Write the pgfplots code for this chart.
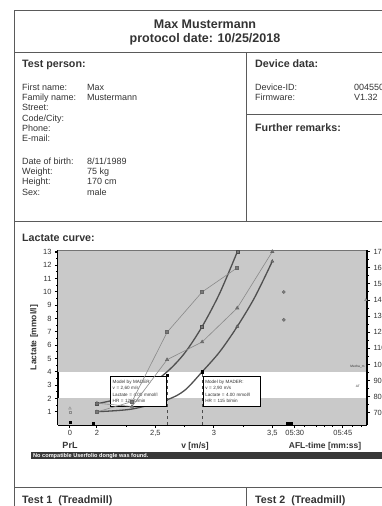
\documentclass[border=0pt]{standalone}
\usepackage{fontspec}
\setmainfont{Liberation Sans}
\usepackage{pgfplots}
\pgfplotsset{compat=1.18}
\definecolor{txt}{HTML}{333333}
\definecolor{frm}{HTML}{5A5A5A}
\definecolor{band}{HTML}{C9C9C9}
\definecolor{thick}{HTML}{505050}
\definecolor{thin}{HTML}{8A8A8A}
\definecolor{mk}{HTML}{7A7A7A}
\newcommand{\fs}[2]{\fontsize{#1}{#2}\selectfont}
\tikzset{fld/.style={anchor=base west, inner sep=0, text=txt, font=\fs{9}{10}},
         hd/.style={anchor=base west, inner sep=0, text=txt, font=\bfseries\fs{10.7}{12}}}
\begin{document}
\begin{tikzpicture}
\useasboundingbox (0,0) rectangle (381pt,-506pt);
\begin{scope}[x=1pt,y=-1pt]
% frames
\draw[frm, line width=1pt] (14,10) -- (420,10);
\draw[frm, line width=1pt] (14,10) -- (14,520);
\draw[frm, line width=1pt] (14,52) -- (420,52);
\draw[frm, line width=1pt] (246,52) -- (246,221);
\draw[frm, line width=1pt] (246,114) -- (420,114);
\draw[frm, line width=1pt] (14,221) -- (420,221);
\draw[frm, line width=1pt] (14,487) -- (420,487);
\draw[frm, line width=1pt] (246,487) -- (246,520);
% title
\node[anchor=base, text=txt, font=\bfseries\fs{12.5}{14}] at (205,28.3) {Max Mustermann};
\node[anchor=base, text=txt, font=\bfseries\fs{12.5}{14}] at (205,42.6) {protocol date: 10/25/2018};
% test person
\node[hd] at (22,67.2) {Test person:};
\node[fld] at (22,90.2) {First name:};   \node[fld] at (87,90.2) {Max};
\node[fld] at (22,100.5) {Family name:}; \node[fld] at (87,100.5) {Mustermann};
\node[fld] at (22,110.8) {Street:};
\node[fld] at (22,121.2) {Code/City:};
\node[fld] at (22,131.5) {Phone:};
\node[fld] at (22,141.8) {E-mail:};
\node[fld] at (22,164.2) {Date of birth:}; \node[fld] at (87,164.2) {8/11/1989};
\node[fld] at (22,174.5) {Weight:};  \node[fld] at (87,174.5) {75 kg};
\node[fld] at (22,184.8) {Height:};  \node[fld] at (87,184.8) {170 cm};
\node[fld] at (22,195.2) {Sex:};     \node[fld] at (87,195.2) {male};
% device
\node[hd] at (255,67.5) {Device data:};
\node[fld] at (255,90.2) {Device-ID:};
\node[fld] at (354,90.2) {00455000};
\node[fld] at (255,100.5) {Firmware:};
\node[fld] at (354,100.5) {V1.32};
\node[hd] at (255,131.5) {Further remarks:};
% lactate curve
\node[hd] at (22,241) {Lactate curve:};
% x-axis titles
\node[anchor=base, inner sep=0, text=txt, font=\bfseries\fs{9}{10}] at (70,448) {PrL};
\node[anchor=base, inner sep=0, text=txt, font=\bfseries\fs{8.5}{10}] at (195,448) {v [m/s]};
\node[anchor=base, inner sep=0, text=txt, font=\bfseries\fs{8.5}{10}] at (325,448) {AFL-time [mm:ss]};
% dongle bar
\fill[black!78] (31,452) rectangle (420,459);
\node[anchor=base west, inner sep=0, text=white, font=\bfseries\fs{5.6}{6}] at (33,457.6) {No compatible Userfolio dongle was found.};
% tests
\node[hd] at (22,503.5) {Test 1\ \ (Treadmill)};
\node[hd] at (255,503.5) {Test 2\ \ (Treadmill)};
\end{scope}

% ---------- lactate axis ----------
\begin{axis}[
  at={(58pt,-425pt)}, anchor=south west,
  scale only axis, width=309pt, height=175pt,
  xmin=1.667, xmax=4.31, ymin=0, ymax=13.15,
  axis x line*=bottom, axis y line*=left,
  axis line style={black, line width=1.1pt, -},
  xtick={1.769,2,2.5,3,3.5,3.692,4.103},
  xticklabels={0,2,{2,5},3,{3,5},05:30,05:45},
  extra x ticks={2.25,2.75,3.25,3.778,3.880,3.949,4.017,4.188,4.265},
  extra x tick labels={},
  extra x tick style={major tick length=2pt},
  ytick={1,2,...,13}, minor y tick num=1,
  tick align=outside,
  major tick length=3pt, minor tick length=2pt,
  every tick/.style={black, line width=1pt},
  tick label style={font=\fs{7.5}{8}, text=txt},
  xticklabel style={yshift=1pt},
  /pgf/number format/assume math mode=true,
  ylabel={Lactate [mmol/l]},
  ylabel style={font=\bfseries\fs{8.5}{9}, text=txt, yshift=-2pt},
]
\fill[band] (rel axis cs:0,0) rectangle (axis cs:4.31,2);
\fill[band] (axis cs:1.667,4) rectangle (rel axis cs:1,1);
\draw[black!55, line width=0.8pt] (rel axis cs:0,1) -- (rel axis cs:1,1);
% thresholds
\addplot[dashed, black!70, line width=0.8pt] coordinates {(2.6,0) (2.6,4)};
\addplot[dashed, black!70, line width=0.8pt] coordinates {(2.9,0) (2.9,4)};
% fitted lactate curves (test 1 / test 2)
\addplot[smooth, line width=1.3pt, color=thick] coordinates {(2.0,1.6) (2.2,2.0) (2.4,2.7) (2.6,4.0) (2.75,5.4) (2.9,7.4) (3.05,9.9) (3.2,13.0)};
\addplot[smooth, line width=1.3pt, color=thick] coordinates {(2.0,1.0) (2.3,1.2) (2.6,1.9) (2.75,2.6) (2.9,4.0) (3.05,5.5) (3.2,7.4) (3.35,9.6) (3.5,12.3)};
% measured lactate
\addplot[only marks, mark=square*, mark size=1.5pt, mark options={fill=mk, draw=black!70}] coordinates {(2.0,1.6) (2.9,7.4) (3.2,13.0)};
\addplot[only marks, mark=triangle*, mark size=1.8pt, mark options={fill=mk, draw=black!70}] coordinates {(2.0,1.0) (3.2,7.4) (3.5,12.3)};
% isolated AFL points
\addplot[only marks, mark=*, mark size=1.6pt, mark options={fill=black!50, draw=black!60}] coordinates {(3.598,10.0) (3.598,7.9)};
% PrL points
\addplot[only marks, mark=triangle, mark size=1.6pt, mark options={draw=black!45}] coordinates {(1.769,1.25)};
\addplot[only marks, mark=square, mark size=1.2pt, mark options={draw=black!45}] coordinates {(1.769,0.95)};
\addplot[only marks, mark=square*, mark size=1.2pt, black] coordinates {(1.769,0.2) (1.97,0.15) (3.66,0.15) (3.63,0.1)};
% threshold markers
\addplot[only marks, mark=square*, mark size=1.3pt, black] coordinates {(2.6,3.75) (2.9,4.0)};
% Mader boxes
\node[anchor=north east, draw=black, line width=0.8pt, fill=white, inner sep=1.5pt, minimum width=56pt, minimum height=30pt, align=left, font=\fs{4.6}{6.3}, text=txt, text width=52pt] at (axis cs:2.6,3.68) {Model by MADER:\\v = 2,60 m/s\\Lactate = 4.00 mmol/l\\HR = 120 b/min};
\node[anchor=north west, draw=black, line width=0.8pt, fill=white, inner sep=1.5pt, minimum width=57pt, minimum height=30pt, align=left, font=\fs{4.6}{6.3}, text=txt, text width=53pt] at (axis cs:2.906,3.68) {Model by MADER:\\v = 2,90 m/s\\Lactate = 4.00 mmol/l\\HR = 115 b/min};
\node[anchor=east, inner sep=0, font=\fs{3.2}{4}, text=txt] at (axis cs:4.29,4.35) {Mecha\_m};
\node[anchor=east, inner sep=0, font=\fs{3.2}{4}, text=txt] at (axis cs:4.25,2.9) {AT};
\end{axis}

% ---------- heart rate axis ----------
\begin{axis}[
  at={(58pt,-425pt)}, anchor=south west,
  scale only axis, width=309pt, height=175pt,
  xmin=1.667, xmax=4.31, ymin=62.5, ymax=171,
  axis x line=none, axis y line*=right,
  axis line style={black, line width=1.1pt, -},
  ytick={70,80,...,170}, minor y tick num=1,
  tick align=outside,
  major tick length=3pt, minor tick length=2pt,
  every tick/.style={black, line width=1pt},
  tick label style={font=\fs{7.5}{8}, text=txt},
  /pgf/number format/assume math mode=true,
]
\addplot[line width=0.6pt, color=thin, mark=square*, mark size=1.5pt, mark options={fill=mk, draw=black!60}] coordinates {(2.0,70.6) (2.3,77) (2.6,120) (2.9,145) (3.2,160)};
\addplot[line width=0.6pt, color=thin, mark=triangle*, mark size=1.8pt, mark options={fill=mk, draw=black!60}] coordinates {(2.0,76) (2.3,74) (2.6,103) (2.9,114) (3.2,135) (3.5,170)};
\addplot[only marks, mark=triangle*, mark size=1.5pt, mark options={fill=black!45, draw=black!45}] coordinates {(4.30,140)};
\end{axis}
\end{tikzpicture}
\end{document}
